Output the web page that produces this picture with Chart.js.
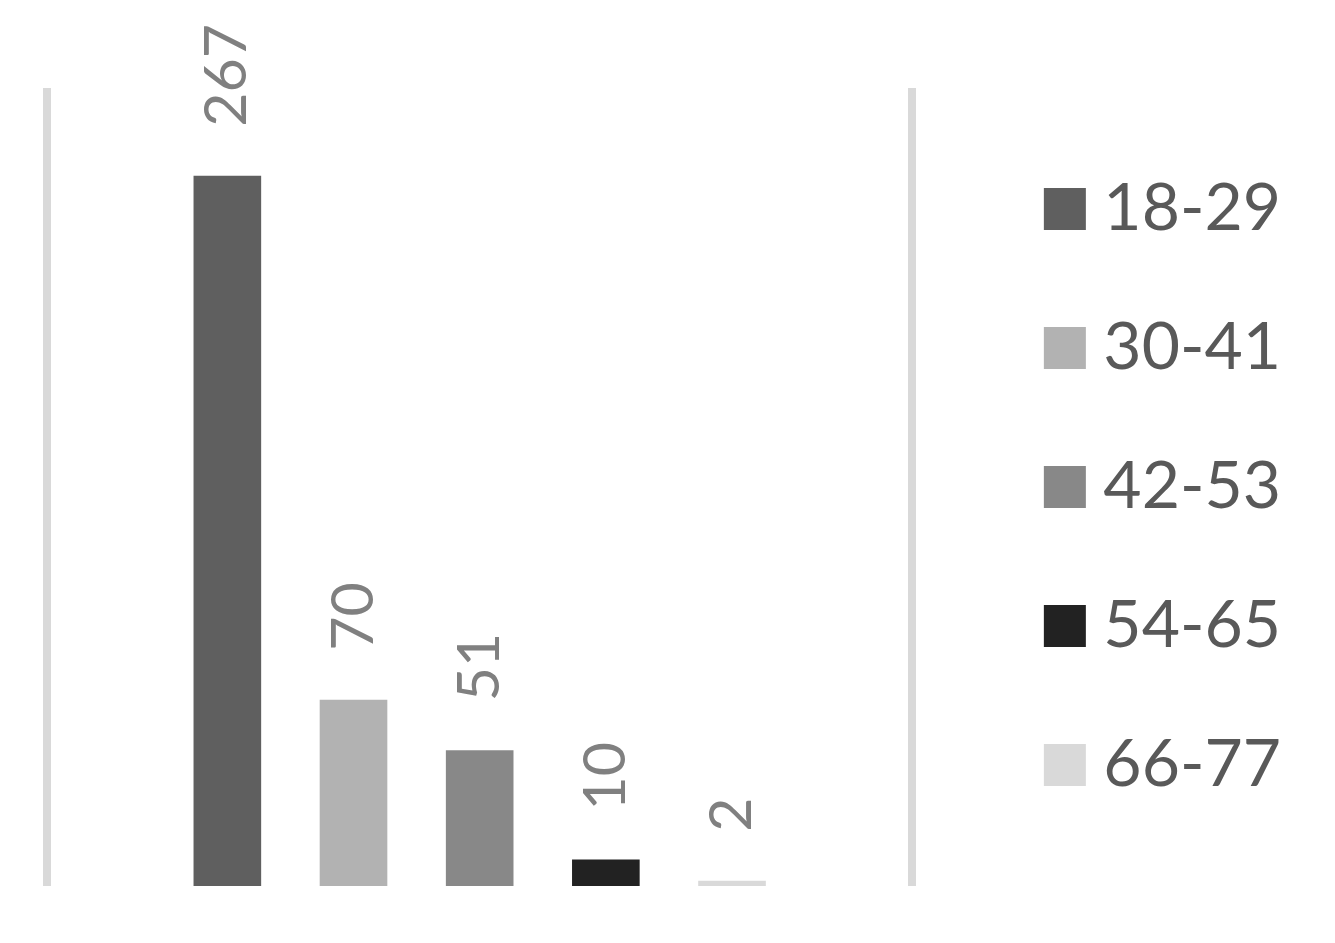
<!DOCTYPE html>
<html>
<head>
<meta charset="utf-8">
<script src="https://cdn.jsdelivr.net/npm/chart.js@4"></script>
<style>
  html, body { margin: 0; padding: 0; background: #fff; }
  #wrap { width: 1335px; height: 943px; }
</style>
</head>
<body>
<div id="wrap"><canvas id="chart"></canvas></div>
<script>
// Данные диаграммы
const categories = [''];
const ageGroups = ['18-29', '30-41', '42-53', '54-65', '66-77'];
const counts = [267, 70, 51, 10, 2];
const barColors = ['#5f5f5f', '#b2b2b2', '#888888', '#222222', '#d9d9d9'];
const yTicks = [0, 300];

Chart.defaults.font.family = 'Lato, "Open Sans", sans-serif';
Chart.defaults.color = '#595959';

// Подписи значений над столбцами (повёрнуты вертикально)
const valueLabels = {
    id: 'valueLabels',
    afterDatasetsDraw(chart) {
        const ctx = chart.ctx;
        ctx.save();
        ctx.fillStyle = '#808080';
        ctx.font = '59px Lato, "Open Sans", sans-serif';
        ctx.textAlign = 'left';
        ctx.textBaseline = 'middle';
        chart.data.datasets.forEach((ds, i) => {
            const meta = chart.getDatasetMeta(i);
            meta.data.forEach((bar, j) => {
                ctx.save();
                ctx.translate(bar.x, bar.y - 49);
                ctx.rotate(-Math.PI / 2);
                ctx.fillText(String(ds.data[j]), 0, 0);
                ctx.restore();
            });
        });
        ctx.restore();
    }
};

new Chart(document.getElementById('chart'), {
    type: 'bar',
    data: {
        labels: categories,
        datasets: ageGroups.map((g, i) => ({
            label: g,
            data: [counts[i]],
            backgroundColor: barColors[i],
            borderWidth: 0,
            categoryPercentage: 0.729,
            barPercentage: 0.536
        }))
    },
    options: {
        responsive: true,
        maintainAspectRatio: false,
        animation: false,
        layout: {
            padding: { top: 88, bottom: 57, left: 47, right: 44 }
        },
        plugins: {
            tooltip: { enabled: false },
            legend: {
                position: 'right',
                labels: {
                    usePointStyle: true,
                    pointStyle: 'rect',
                    boxWidth: 11,
                    boxHeight: 42,
                    padding: 73,
                    color: '#595959',
                    font: { size: 66 }
                }
            }
        },
        scales: {
            x: {
                display: true,
                grid: {
                    display: true,
                    offset: true,
                    drawTicks: false,
                    color: '#d9d9d9',
                    lineWidth: 8
                },
                border: { display: false },
                ticks: { display: false }
            },
            y: {
                position: 'right',
                min: yTicks[0],
                max: yTicks[1],
                grid: { display: false },
                border: { display: false },
                ticks: { display: false },
                afterFit(scale) { scale.width = 74; }
            }
        }
    },
    plugins: [valueLabels]
});
</script>
</body>
</html>
